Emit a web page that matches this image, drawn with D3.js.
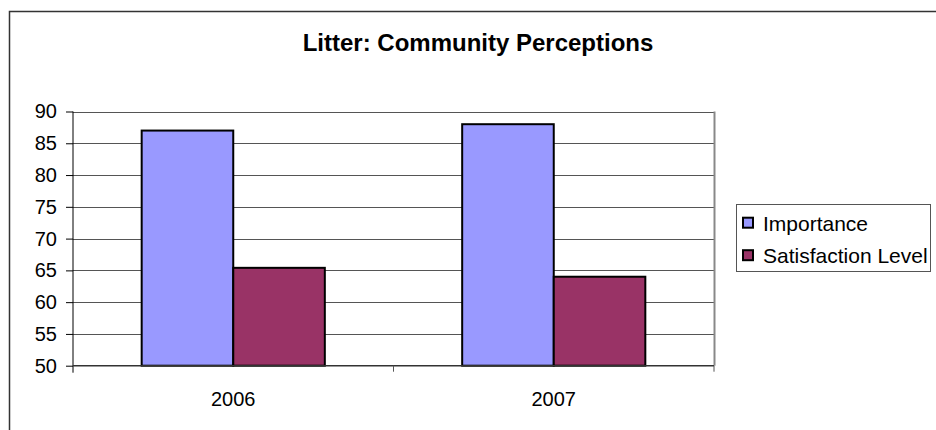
<!DOCTYPE html>
<html>
	<head>
		<title>Litter: Community Perceptions</title>
		<style>
			body { margin: 0; background: #fff; }
			text { font-family: "Liberation Sans", Arial, sans-serif; fill: #000; }
		</style>
	</head>
	<body>
		<script src="https://cdn.jsdelivr.net/npm/d3@7"></script>
		<script>
			var years = ['2006', '2007'];
			var seriesNames = ['Importance', 'Satisfaction Level'];
			var importance = [87, 88];
			var satisfaction = [65.4, 64];
			var yTicks = [50, 55, 60, 65, 70, 75, 80, 85, 90];
			var colors = ['#9999ff', '#993366'];

			var width = 936, height = 430;
			var svg = d3.select('body').append('svg')
				.attr('width', width)
				.attr('height', height);

			// outer chart frame (runs off the right and bottom edges)
			svg.append('rect')
				.attr('x', 9.5).attr('y', 11.5)
				.attr('width', 940).attr('height', 440)
				.attr('fill', '#fff')
				.attr('stroke', '#333')
				.attr('stroke-width', 1.5);

			svg.append('text')
				.attr('x', 478).attr('y', 51)
				.attr('text-anchor', 'middle')
				.style('font-weight', 'bold')
				.style('font-size', '24px')
				.text('Litter: Community Perceptions');

			var plot = { left: 73, right: 714, top: 111.5, bottom: 365.7 };

			var x = d3.scaleBand().domain(years).range([plot.left, plot.right]);
			// Excel gap width 150%: bar width = band / 3.5
			var barW = x.bandwidth() / 3.5;
			var y = d3.scaleLinear().domain([50, 90]).range([plot.bottom, plot.top]);

			// gridlines
			svg.append('g').selectAll('line').data(yTicks.slice(1)).enter().append('line')
				.attr('x1', plot.left).attr('x2', plot.right)
				.attr('y1', function(d) { return Math.round(y(d)) + 0.5; })
				.attr('y2', function(d) { return Math.round(y(d)) + 0.5; })
				.attr('stroke', '#555')
				.attr('stroke-width', 1);

			// plot area right border
			svg.append('line')
				.attr('x1', plot.right + 0.5).attr('x2', plot.right + 0.5)
				.attr('y1', plot.top).attr('y2', plot.bottom)
				.attr('stroke', '#888').attr('stroke-width', 2);

			var data = [];
			years.forEach(function(yr, i) {
				data.push({ year: yr, k: 0, v: importance[i] });
				data.push({ year: yr, k: 1, v: satisfaction[i] });
			});

			svg.append('g').selectAll('rect').data(data).enter().append('rect')
				.attr('x', function(d) { return x(d.year) + x.bandwidth() / 2 + (d.k - 1) * barW; })
				.attr('y', function(d) { return y(d.v); })
				.attr('width', barW)
				.attr('height', function(d) { return y(50) - y(d.v); })
				.attr('fill', function(d) { return colors[d.k]; })
				.attr('stroke', '#000')
				.attr('stroke-width', 2);

			// y axis
			var yAxis = svg.append('g')
				.attr('transform', 'translate(' + plot.left + ',0)')
				.call(d3.axisLeft(y).tickValues(yTicks).tickSize(7).tickPadding(9));
			yAxis.selectAll('text').style('font-size', '20px').attr('fill', '#000');
			yAxis.selectAll('line, path').attr('stroke', '#000');
			yAxis.select('.domain').attr('d', 'M0,' + plot.top + 'V' + (plot.bottom + 7));

			// x axis
			var xAxis = svg.append('g')
				.attr('transform', 'translate(0,' + plot.bottom + ')')
				.call(d3.axisBottom(x).tickSize(0).tickPadding(26));
			xAxis.selectAll('text').style('font-size', '20px').attr('fill', '#000');
			xAxis.select('.domain').attr('stroke', '#333').attr('stroke-width', 1.5)
				.attr('d', 'M' + plot.left + ',0H' + plot.right);
			xAxis.selectAll('.sep').data([(plot.left + plot.right) / 2, plot.right])
				.enter().append('line')
				.attr('class', 'sep')
				.attr('x1', function(d) { return d; }).attr('x2', function(d) { return d; })
				.attr('y1', 0).attr('y2', 6)
				.attr('stroke', '#555');

			// legend
			var legend = svg.append('g').attr('transform', 'translate(736,204)');
			legend.append('rect')
				.attr('x', 0.5).attr('y', 0.5)
				.attr('width', 194).attr('height', 67)
				.attr('fill', '#fff')
				.attr('stroke', '#555');
			var item = legend.selectAll('.item').data(seriesNames).enter().append('g')
				.attr('class', 'item')
				.attr('transform', function(d, i) { return 'translate(7,' + (26.7 + i * 32.5) + ')'; });
			item.append('rect')
				.attr('x', 0).attr('y', -13)
				.attr('width', 10).attr('height', 10)
				.attr('fill', function(d, i) { return colors[i]; })
				.attr('stroke', '#000').attr('stroke-width', 2);
			item.append('text')
				.attr('x', 20)
				.style('font-size', '21px')
				.text(function(d) { return d; });
		</script>
	</body>
</html>
